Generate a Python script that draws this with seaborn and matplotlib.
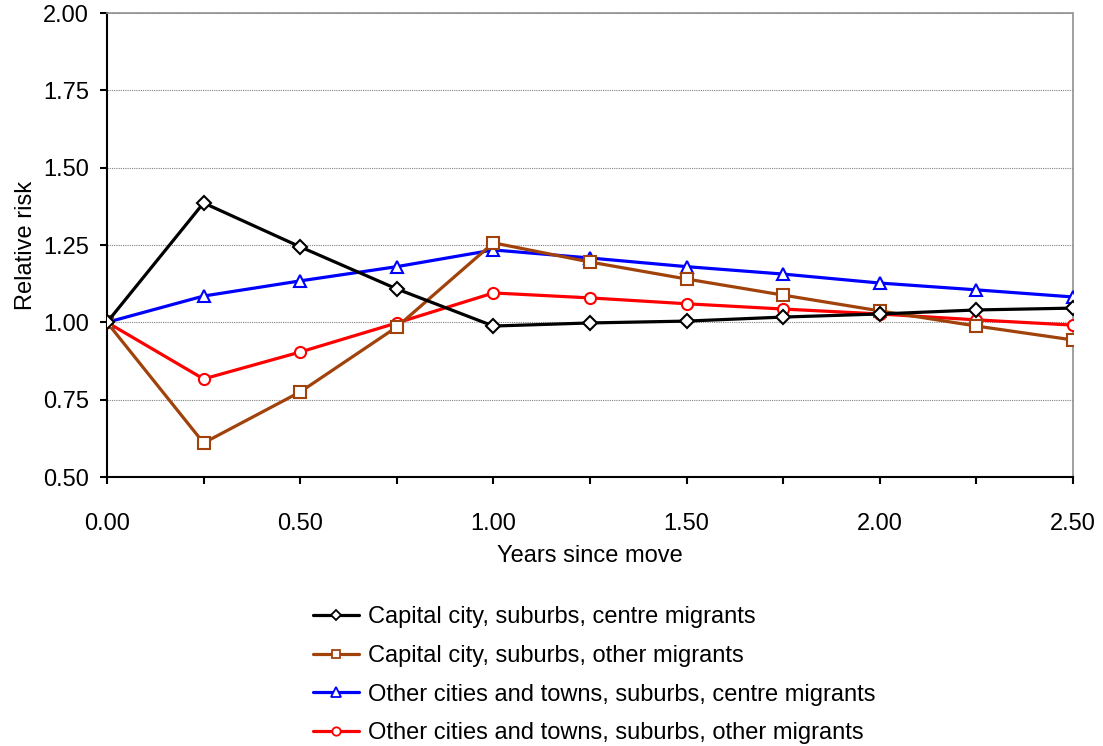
import matplotlib
matplotlib.use("Agg")
import matplotlib.pyplot as plt
from matplotlib.lines import Line2D
import seaborn as sns
import pandas as pd
from matplotlib.ticker import FixedLocator

years = [0.00, 0.25, 0.50, 0.75, 1.00, 1.25, 1.50, 1.75, 2.00, 2.25, 2.50]
capital_centre = [1.00, 1.386, 1.244, 1.108, 0.988, 0.998, 1.004, 1.017, 1.027, 1.040, 1.046]
capital_other = [1.00, 0.610, 0.775, 0.985, 1.257, 1.195, 1.140, 1.088, 1.037, 0.988, 0.943]
towns_centre = [1.00, 1.085, 1.134, 1.180, 1.234, 1.208, 1.180, 1.156, 1.127, 1.105, 1.082]
towns_other = [1.00, 0.817, 0.904, 0.998, 1.095, 1.079, 1.060, 1.043, 1.027, 1.008, 0.991]

series_names = [
    "Capital city, suburbs, centre migrants",
    "Capital city, suburbs, other migrants",
    "Other cities and towns, suburbs, centre migrants",
    "Other cities and towns, suburbs, other migrants",
]
series_values = [capital_centre, capital_other, towns_centre, towns_other]
x_tick_labels = ["0.00", "0.50", "1.00", "1.50", "2.00", "2.50"]
y_tick_labels = ["0.50", "0.75", "1.00", "1.25", "1.50", "1.75", "2.00"]

colors = ["#000000", "#A0420A", "#0000FF", "#FF0000"]
markers = ["D", "s", "^", "o"]
msizes = [7, 8, 9, 8]
leg_msizes = [5.5, 6, 7, 6]

rows = []
for name, vals in zip(series_names, series_values):
    for x, v in zip(years, vals):
        rows.append({"Years since move": x, "Relative risk": v, "series": name})
df = pd.DataFrame(rows)

sns.set_style("white")
plt.rcParams["font.family"] = ["Liberation Sans", "DejaVu Sans"]
plt.rcParams["text.color"] = "black"
plt.rcParams["axes.labelcolor"] = "black"
plt.rcParams["xtick.color"] = "black"
plt.rcParams["ytick.color"] = "black"

FS = 17

fig = plt.figure(figsize=(11.03, 7.46), dpi=100)
ax = fig.add_axes([107/1103, 1-477/746, (1073-107)/1103, (477-13)/746])

for i, name in enumerate(series_names):
    sub = df[df["series"] == name]
    sns.lineplot(data=sub, x="Years since move", y="Relative risk", ax=ax,
                 color=colors[i], linewidth=2.3, marker=markers[i],
                 markersize=msizes[i],
                 markerfacecolor="white", markeredgecolor=colors[i],
                 markeredgewidth=1.5, legend=False, zorder=3 + (3 - i))

ax.set_xlim(0, 2.5)
ax.set_ylim(0.5, 2.0)
ax.xaxis.set_major_locator(FixedLocator([0, 0.5, 1.0, 1.5, 2.0, 2.5]))
ax.xaxis.set_minor_locator(FixedLocator([0.25, 0.75, 1.25, 1.75, 2.25]))
ax.set_xticklabels(x_tick_labels)
ax.set_yticks([0.5, 0.75, 1.0, 1.25, 1.5, 1.75, 2.0])
ax.set_yticklabels(y_tick_labels)
ax.tick_params(axis="both", which="both", direction="out", length=5, width=1.5,
               color="black", labelsize=FS, labelcolor="black", bottom=True, left=True)
ax.tick_params(axis="x", which="major", pad=21)
ax.tick_params(axis="y", which="major", pad=8)
ax.grid(axis="y", color="#808080", linestyle=(0, (1, 1)), linewidth=0.8)
ax.set_axisbelow(True)

for s in ["left", "bottom"]:
    ax.spines[s].set_color("black")
    ax.spines[s].set_linewidth(1.5)
for s in ["top", "right"]:
    ax.spines[s].set_color("#909090")
    ax.spines[s].set_linewidth(1.2)
ax.spines["top"].set_linestyle((0, (1, 1)))

ax.set_xlabel("Years since move", fontsize=FS, labelpad=7)
ax.set_ylabel("Relative risk", fontsize=FS, labelpad=4)

handles = [Line2D([], [], color=colors[i], linewidth=2.3, marker=markers[i],
                  markersize=leg_msizes[i], markerfacecolor="white",
                  markeredgecolor=colors[i], markeredgewidth=1.3)
           for i in range(len(series_names))]
fig.legend(handles, series_names, loc="upper left", bbox_to_anchor=(304/1103, 1-597/746),
           frameon=False, fontsize=FS, handlelength=1.95, handletextpad=0.34,
           labelspacing=0.70, borderaxespad=0)

fig.savefig("out.png", dpi=100)
